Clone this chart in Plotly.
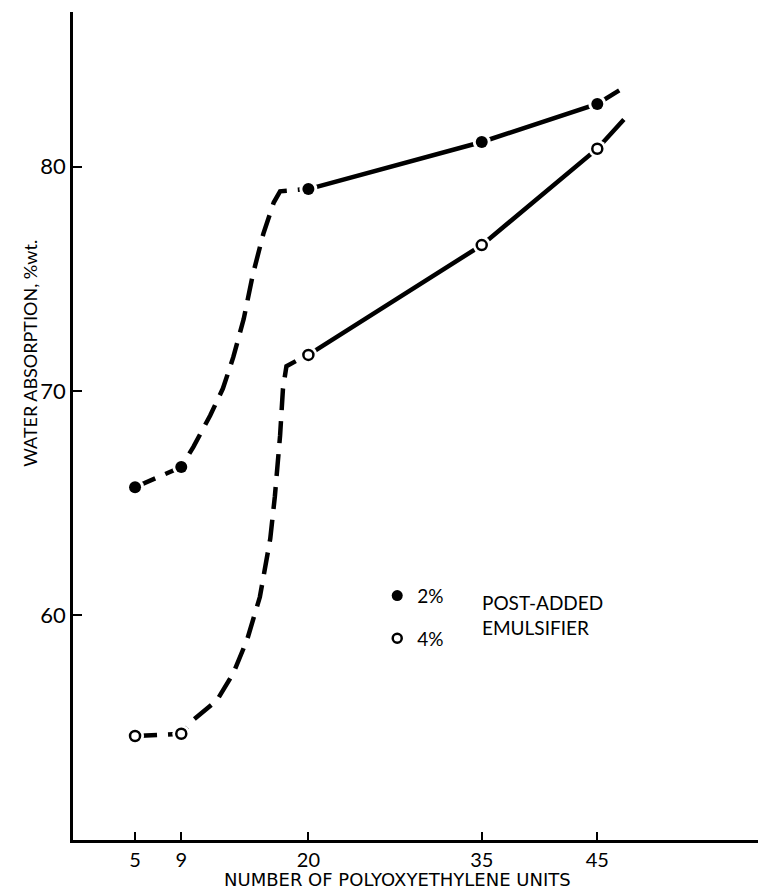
import plotly.graph_objects as go

# ---- data ----
units = [5, 9, 20, 35, 45]
wa_2pct = [65.7, 66.6, 79.0, 81.1, 82.8]
wa_4pct = [54.6, 54.7, 71.6, 76.5, 80.8]

# hand-drawn fitted curves (dashed low region, solid high region)
c2_dash_x = [5, 9, 10.05, 11.5, 12.6, 13.5, 14.4, 15.2, 16.1, 17.0, 17.55, 19.9]
c2_dash_y = [65.7, 66.6, 67.5, 68.9, 70.1, 71.5, 73.2, 75.2, 77.0, 78.4, 78.9, 79.0]
c2_solid_x = [20, 35, 45, 46.9]
c2_solid_y = [79.0, 81.1, 82.8, 83.4]

c4_dash_x = [5, 9, 10.0, 12.1, 13.5, 14.7, 15.8, 16.7, 17.1, 17.55, 17.8, 18.1, 19.9]
c4_dash_y = [54.6, 54.7, 55.3, 56.2, 57.4, 58.9, 60.8, 63.4, 65.3, 68.0, 70.1, 71.1, 71.6]
c4_solid_x = [20, 35, 45, 47.3]
c4_solid_y = [71.6, 76.5, 80.8, 82.1]

x_tickvals = [5, 9, 20, 35, 45]
x_ticktext = ["5", "9", "20", "35", "45"]
y_tickvals = [60, 70, 80]
y_ticktext = ["60", "70", "80"]

FONT = "Lato"
LW = 4.5
DASH = "22px,11px"

fig = go.Figure()

for xs, ys, dash in [(c2_dash_x, c2_dash_y, DASH), (c2_solid_x, c2_solid_y, "solid"),
                     (c4_dash_x, c4_dash_y, DASH), (c4_solid_x, c4_solid_y, "solid")]:
    fig.add_trace(go.Scatter(x=xs, y=ys, mode="lines", showlegend=False,
                             line=dict(color="black", width=LW, dash=dash),
                             hoverinfo="skip"))

# white halos to create gaps around the points
for ys in (wa_2pct, wa_4pct):
    fig.add_trace(go.Scatter(x=units, y=ys, mode="markers", showlegend=False,
                             marker=dict(color="white", size=18, line=dict(width=0)),
                             hoverinfo="skip"))

fig.add_trace(go.Scatter(x=units, y=wa_2pct, mode="markers", showlegend=False,
                         marker=dict(color="black", size=12, line=dict(width=0))))
fig.add_trace(go.Scatter(x=units, y=wa_4pct, mode="markers", showlegend=False,
                         marker=dict(color="white", size=10, line=dict(color="black", width=2.5))))

# legend entries
fig.add_trace(go.Scatter(x=[None], y=[None], mode="markers", name="2%", legendgroup="a",
                         marker=dict(color="black", size=11, line=dict(width=0))))
fig.add_trace(go.Scatter(x=[None], y=[None], mode="markers", name="4%", legendgroup="b",
                         marker=dict(color="white", size=9, line=dict(color="black", width=2.5))))

fig.update_layout(
    width=758, height=882,
    margin=dict(l=65, r=0, t=4, b=50),
    paper_bgcolor="white", plot_bgcolor="white",
    font=dict(family=FONT, color="black"),
    showlegend=True,
    legend=dict(x=0.439, y=0.318, xanchor="left", yanchor="top",
                font=dict(size=19, family=FONT, color="black"),
                bgcolor="rgba(0,0,0,0)", tracegroupgap=15),
    xaxis=dict(range=[-0.37, 59.6], tickvals=x_tickvals, ticktext=x_ticktext,
               ticks="inside", ticklen=8, tickwidth=2, tickcolor="black",
               showline=True, linewidth=2.5, linecolor="black",
               showgrid=False, zeroline=False,
               tickfont=dict(size=20, family=FONT, color="black")),
    yaxis=dict(range=[49.96, 86.9], tickvals=y_tickvals, ticktext=y_ticktext,
               ticks="inside", ticklen=9, tickwidth=2, tickcolor="black",
               showline=True, linewidth=2.5, linecolor="black",
               showgrid=False, zeroline=False,
               tickfont=dict(size=22, family=FONT, color="black")),
    annotations=[
        dict(text="POST-ADDED<br>EMULSIFIER", xref="paper", yref="paper",
             x=0.5873, y=0.2717, xanchor="left", yanchor="middle", align="left",
             showarrow=False, font=dict(size=19, family=FONT, color="black")),
        dict(text="NUMBER OF POLYOXYETHYLENE UNITS", xref="paper", yref="paper",
             x=0.4683, y=-0.0483, xanchor="center", yanchor="middle",
             showarrow=False, font=dict(size=18, family="DejaVu Sans", color="black")),
        dict(text="WATER ABSORPTION, %wt.", xref="paper", yref="paper",
             x=-0.0625, y=0.588, xanchor="center", yanchor="middle", textangle=-90,
             showarrow=False, font=dict(size=18, family=FONT, color="black")),
    ],
)

fig.write_html("out.html")
